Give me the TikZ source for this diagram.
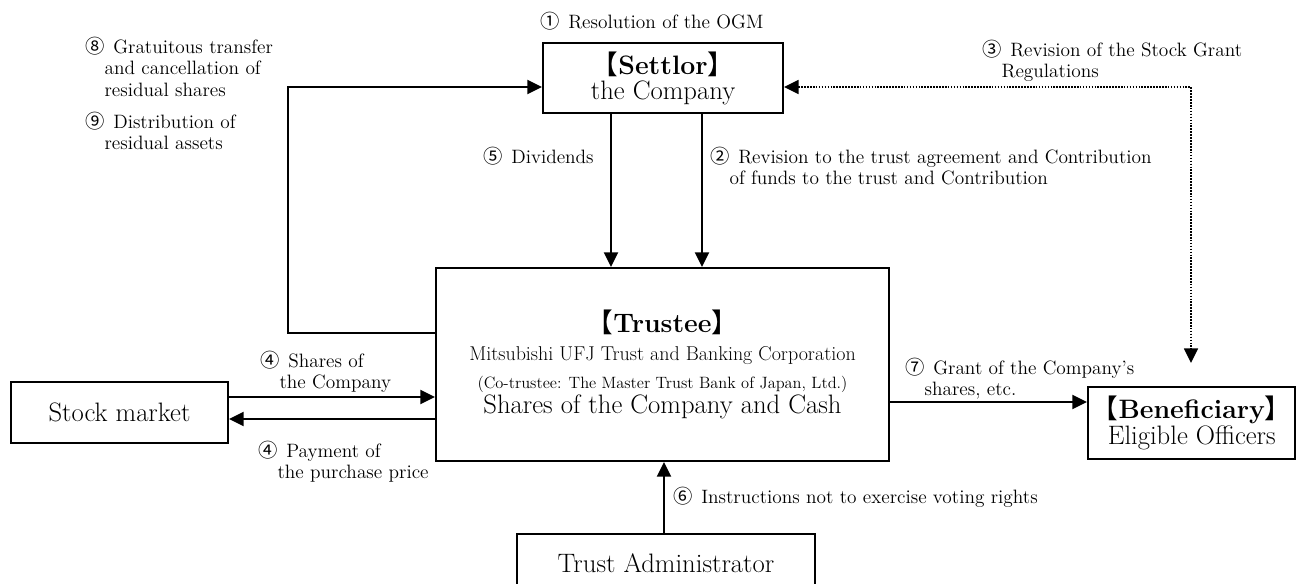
\documentclass[tikz,border=0pt]{standalone}
\usepackage{fontspec}
\newfontfamily\cjk{Noto Sans CJK JP}
\usetikzlibrary{arrows.meta}
\newcommand\cn[1]{{\cjk #1}\hspace{0.45em}}
\newcommand\ind{\hspace*{14.5pt}}
\newcommand\ls{\rule{0pt}{13pt}}
\newcommand\lbk{{\cjk 【}}
\newcommand\rbk{{\cjk 】}}
\begin{document}
\begin{tikzpicture}[x=0.75pt,y=-0.75pt,
  box/.style={draw, line width=1.5pt, align=center, inner sep=0pt,
    font=\fontsize{20}{18.75}\selectfont},
  lbl/.style={anchor=north west, align=left, inner sep=0pt,
    font=\fontsize{14.5}{16.1}\selectfont},
  arr/.style={line width=1.5pt, -{Triangle[length=11pt,width=10.5pt]}},
  dotarr/.style={line width=1.2pt, densely dotted,
    {Triangle[length=11pt,width=10.5pt]}-{Triangle[length=11pt,width=10.5pt]}}]
\useasboundingbox (0,0) rectangle (1297,584);
\clip (0,0) rectangle (1297,584);

% boxes
\node[box, minimum width=180pt, minimum height=52.5pt] (settlor) at (663,78)
  {\lbk\textbf{Settlor}\rbk\\the Company};
\node[box, minimum width=339.75pt, minimum height=144.75pt,
  font=\fontsize{20}{21}\selectfont] (trustee) at (662.5,364.5)
  {\lbk\textbf{Trustee}\rbk\\
   {\fontsize{15}{16}\selectfont Mitsubishi UFJ Trust and Banking Corporation}\\
   {\fontsize{12.3}{14}\selectfont (Co-trustee: The Master Trust Bank of Japan, Ltd.)}\\[-2.25pt]
   Shares of the Company and Cash};
\node[box, minimum width=162.75pt, minimum height=45.75pt] (stock) at (119.5,412.5)
  {Stock market};
\node[box, minimum width=155.6pt, minimum height=54pt] (benef) at (1191.75,423)
  {\lbk\textbf{Beneficiary}\rbk\\[0.75pt]Eligible Officers};
\node[box, minimum width=223.5pt, minimum height=44.25pt] (admin) at (666,563.5)
  {Trust Administrator};

% helper coordinates
\coordinate (lc) at (288,333);
\coordinate (lc2) at (288,87);
\coordinate (xa) at (611,0);
\coordinate (xb) at (702,0);
\coordinate (dc) at (1191,87);
\coordinate (dd) at (1191,363);
\coordinate (s1) at (0,397);
\coordinate (s2) at (0,419);
\coordinate (g) at (0,402);
\coordinate (ax) at (664,0);

% connectors
\draw[arr] (lc -| trustee.west) -- (lc) -- (lc2) -- (lc2 -| settlor.west);
\draw[arr] (settlor.south -| xa) -- (trustee.north -| xa);
\draw[arr] (settlor.south -| xb) -- (trustee.north -| xb);
\draw[dotarr] (dc -| settlor.east) -- (dc) -- (dd);
\draw[arr] (s1 -| stock.east) -- (s1 -| trustee.west);
\draw[arr] (s2 -| trustee.west) -- (s2 -| stock.east);
\draw[arr] (g -| trustee.east) -- (g -| benef.west);
\draw[arr] (admin.north -| ax) -- (trustee.south -| ax);

% labels
\node[lbl] (l1) at (540,10.7) {\ls\cn{①}Resolution of the OGM};
\node[lbl] (l8) at (85,35.7) {\ls\cn{⑧}Gratuitous transfer\\\ind and cancellation of\\\ind residual shares};
\node[lbl] (l9) at (85,110.7) {\ls\cn{⑨}Distribution of\\\ind residual assets};
\node[lbl] (l3) at (982,38.7) {\ls\cn{③}Revision of the Stock Grant\\\ind Regulations};
\node[lbl] (l5) at (483,145.7) {\ls\cn{⑤}Dividends};
\node[lbl] (l2) at (710,145.7) {\ls\cn{②}Revision to the trust agreement and Contribution\\\ind of funds to the trust and Contribution};
\node[lbl] (l4a) at (260,349.7) {\ls\cn{④}Shares of\\\ind the Company};
\node[lbl] (l4b) at (258,439.7) {\ls\cn{④}Payment of\\\ind the purchase price};
\node[lbl] (l7) at (905,356.7) {\ls\cn{⑦}Grant of the Company’s\\\ind shares, etc.};
\node[lbl] (l6) at (673,485.7) {\ls\cn{⑥}Instructions not to exercise voting rights};
\end{tikzpicture}
\end{document}
